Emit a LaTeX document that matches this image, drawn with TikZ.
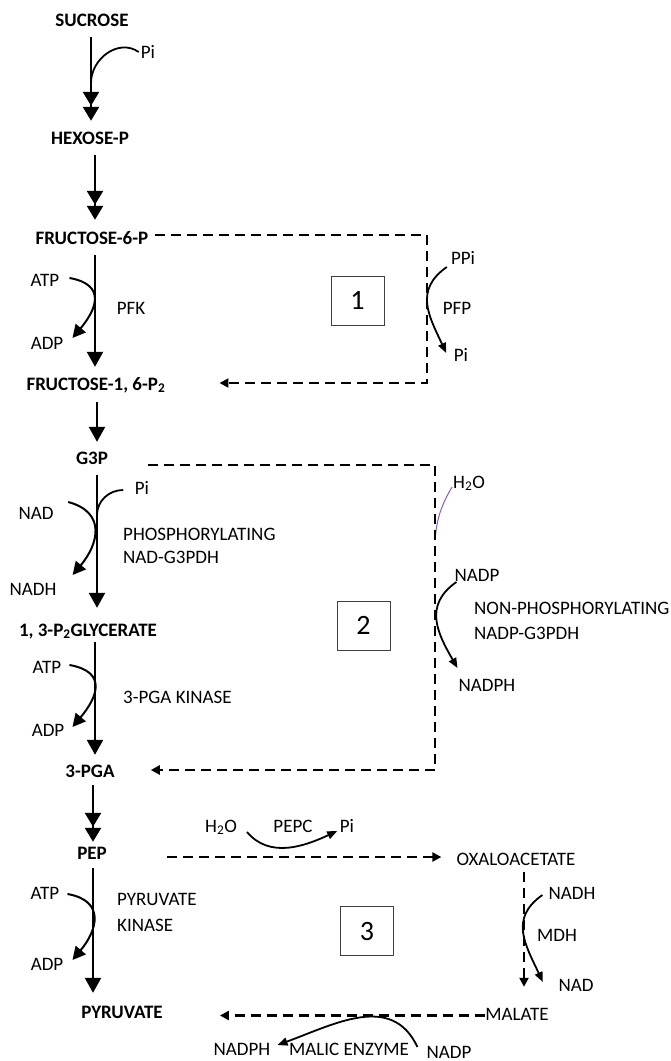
\documentclass[tikz,border=0pt]{standalone}
\usepackage{fontspec}
\setmainfont{Carlito}
\usetikzlibrary{arrows.meta}
\definecolor{waterline}{RGB}{140,90,190}
\begin{document}
\begin{tikzpicture}[x=1pt,y=1pt,
  lab/.style={inner sep=0pt, text height=12pt, text depth=0pt, font=\fontsize{19}{22}\selectfont},
  blab/.style={lab, font=\fontsize{19}{22}\selectfont\bfseries},
  numbox/.style={draw=black!75, line width=1pt, minimum width=53pt, minimum height=49pt, inner sep=0pt, font=\fontsize{28}{30}\selectfont},
  mainarr/.style={line width=2.4pt, -{Triangle[width=16pt,length=15pt]}},
  dblarr/.style={line width=2.4pt, -{Triangle[width=16pt,length=14pt,sep=1pt]Triangle[width=16pt,length=14pt]}},
  bigcurve/.style={line width=2pt, -{Triangle[width=13pt,length=13pt]}},
  smallcurve/.style={line width=1.8pt, -{Triangle[width=8pt,length=10pt]}},
  plaincurve/.style={line width=1.8pt},
  dashline/.style={line width=2.4pt, dash pattern=on 10pt off 6pt},
  dasharr/.style={dashline, -{Triangle[width=9pt,length=9pt]}},
]
\useasboundingbox (0,0) rectangle (671,-1061);

% main metabolites
\node[blab] (suc) at (92,-20) {SUCROSE};
\node[blab] (hex) at (90,-138) {HEXOSE-P};
\node[blab] (f6p) at (92,-238) {FRUCTOSE-6-P};
\node[blab] (f16) at (96,-384) {FRUCTOSE-1, 6-P\textsubscript{2}};
\node[blab] (g3p) at (92,-458) {G3P};
\node[blab] (gly) at (88,-630) {1, 3-P\textsubscript{2}GLYCERATE};
\node[blab] (pga) at (90,-771) {3-PGA};
\node[blab] (pep) at (92,-853) {PEP};
\node[blab] (pyr) at (122,-1012) {PYRUVATE};

% labels
\node[lab] (pi1) at (148,-52) {Pi};
\node[lab] (atp1) at (45,-280) {ATP};
\node[lab] (adp1) at (47,-343) {ADP};
\node[lab] (pfk) at (131,-308) {PFK};
\node[numbox] (box1) at (357.5,-300.5) {1};
\node[lab] (ppi) at (463,-258) {PPi};
\node[lab] (pfp) at (457,-308) {PFP};
\node[lab] (pi2) at (461,-355) {Pi};
\node[lab] (pi3) at (142,-488) {Pi};
\node[lab] (nad1) at (36,-513) {NAD};
\node[lab] (nadh1) at (33,-589) {NADH};
\node[lab, anchor=west] (phos) at (123,-534) {PHOSPHORYLATING};
\node[lab, anchor=west] (nadg) at (123,-557) {NAD-G3PDH};
\node[lab] (h2o1) at (469,-482) {H\textsubscript{2}O};
\node[lab] (nadp1) at (477,-575) {NADP};
\node[lab, anchor=west] (nonphos) at (474,-608) {NON-PHOSPHORYLATING};
\node[lab, anchor=west] (nadpg) at (474,-633) {NADP-G3PDH};
\node[lab] (nadph1) at (487,-685) {NADPH};
\node[numbox] (box2) at (363.5,-625.5) {2};
\node[lab] (atp2) at (47,-667) {ATP};
\node[lab] (adp2) at (48,-730) {ADP};
\node[lab, anchor=west] (pgak) at (123,-697) {3-PGA KINASE};
\node[lab] (h2o2) at (221,-826) {H\textsubscript{2}O};
\node[lab] (pepc) at (293,-826) {PEPC};
\node[lab] (pi4) at (347,-826) {Pi};
\node[lab] (oaa) at (516,-859) {OXALOACETATE};
\node[numbox] (box3) at (367,-931) {3};
\node[lab] (nadh2) at (572,-893) {NADH};
\node[lab] (mdh) at (557,-935) {MDH};
\node[lab] (nad2) at (576,-985) {NAD};
\node[lab] (mal) at (517,-1014) {MALATE};
\node[lab] (atp3) at (45,-893) {ATP};
\node[lab] (adp3) at (47,-964) {ADP};
\node[lab, anchor=west] (pk1) at (117,-899) {PYRUVATE};
\node[lab, anchor=west] (pk2) at (117,-925) {KINASE};
\node[lab] (nadph2) at (242,-1049) {NADPH};
\node[lab] (malic) at (349,-1049) {MALIC ENZYME};
\node[lab] (nadp2) at (449,-1052) {NADP};

% main arrows
\draw[dblarr, shorten <=11pt, shorten >=11pt] ([xshift=-1pt]suc.south) -- ([xshift=-1pt]suc.south |- hex.north);
\draw[dblarr, shorten <=11pt, shorten >=12pt] ([xshift=5pt]hex.south) -- ([xshift=5pt]hex.south |- f6p.north);
\draw[mainarr, shorten <=11pt, shorten >=11pt] ([xshift=3pt]f6p.south) -- ([xshift=3pt]f6p.south |- f16.north);
\draw[mainarr, shorten <=12pt, shorten >=10pt] ([xshift=1pt]f16.south) -- ([xshift=1pt]f16.south |- g3p.north);
\draw[mainarr, shorten <=11pt, shorten >=16pt] ([xshift=5pt]g3p.south) -- ([xshift=5pt]g3p.south |- gly.north);
\draw[mainarr, shorten <=6pt, shorten >=10pt] ([xshift=7pt]gly.south) -- ([xshift=7pt]gly.south |- pga.north);
\draw[dblarr, shorten <=8pt, shorten >=5pt] ([xshift=3pt]pga.south) -- ([xshift=3pt]pga.south |- pep.north);
\draw[mainarr, shorten <=9pt, shorten >=13pt] ([xshift=1pt]pep.south) -- ([xshift=1pt]pep.south |- pyr.north);

% junctions on main arrows
\coordinate (j1) at ([xshift=-1pt]suc.south |- 0,-83);
\coordinate (j2) at ([xshift=5pt]g3p.south |- 0,-515);

% side curves
\draw[plaincurve] ([shift={(-2pt,0pt)}]pi1.west) to[out=145, in=90, looseness=1.1] (j1);
\draw[bigcurve] ([shift={(10pt,2pt)}]atp1.east) to[out=-10, in=50, looseness=1.6] ([shift={(9pt,5pt)}]adp1.east);
\draw[smallcurve] ([shift={(-4pt,-9pt)}]ppi.west) to[out=215, in=115, looseness=1.2] ([shift={(-7.5pt,2pt)}]pi2.west);
\draw[plaincurve] ([shift={(-11.5pt,-2pt)}]pi3.west) to[out=180, in=90] (j2);
\draw[bigcurve] ([shift={(14.5pt,11pt)}]nad1.east) to[out=-15, in=50, looseness=1.4] ([shift={(16pt,14pt)}]nadh1.east);
\coordinate (h2oend) at (435,-540);
\draw[line width=1pt, draw=waterline] ([shift={(-1pt,-5pt)}]h2o1.west) to[out=240, in=85] (h2oend);
\draw[smallcurve] ([shift={(2pt,-7pt)}]nadp1.west) to[out=215, in=120, looseness=1.2] ([shift={(-1pt,17pt)}]nadph1.west);
\draw[bigcurve] ([shift={(8pt,2pt)}]atp2.east) to[out=-10, in=50, looseness=1.6] ([shift={(8pt,3pt)}]adp2.east);
\draw[smallcurve] ([shift={(10pt,-6pt)}]h2o2.east) to[out=-50, in=205] ([shift={(-2.5pt,-5pt)}]pi4.west);
\draw[smallcurve] ([shift={(-6pt,-2pt)}]nadh2.west) to[out=215, in=115, looseness=1.2] ([shift={(-15.5pt,3pt)}]nad2.west);
\draw[bigcurve] ([shift={(8pt,-1pt)}]atp3.east) to[out=-10, in=50, looseness=1.5] ([shift={(9pt,4pt)}]adp3.east);
\draw[smallcurve] ([shift={(-9pt,5pt)}]nadp2.west) to[out=115, in=20, looseness=1.1] ([shift={(7pt,4pt)}]nadph2.east);

% dashed bypasses
\coordinate (c1) at (427,-383);
\draw[dasharr, shorten <=7pt, shorten >=54pt] ([yshift=3pt]f6p.east) -| (c1) -- (c1 -| f16.east);
\coordinate (c2) at (435,-770);
\draw[dasharr, shorten <=40pt, shorten >=36pt] ([yshift=-7pt]g3p.east) -| (c2) -- (c2 -| pga.east);
\draw[dasharr, shorten <=60pt, shorten >=15pt] ([yshift=2pt]oaa.west -| pep.east) -- ([yshift=2pt]oaa.west);
\draw[dasharr, shorten <=7pt, shorten >=21pt] ([xshift=8pt]oaa.south) -- ([xshift=8pt]oaa.south |- mal.north);
\draw[dasharr, shorten >=57pt] ([yshift=-1.5pt]mal.west) -- ([yshift=-1.5pt]mal.west -| pyr.east);
\end{tikzpicture}
\end{document}
